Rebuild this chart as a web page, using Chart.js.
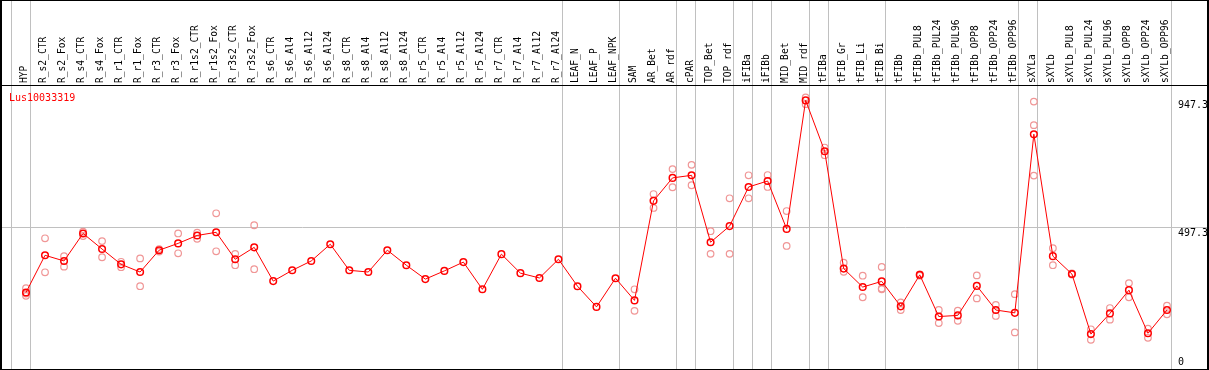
<!DOCTYPE html>
<html lang="en">
<head>
<meta charset="UTF-8">
<script src="https://cdn.jsdelivr.net/npm/chart.js"></script>
<style>
  body { margin: 0; background: #fff; }
  #wrap { width: 1209px; height: 370px; }
</style>
<title>Lus10033319</title>
</head>
<body>
<div id="wrap"><canvas id="myChart"></canvas></div>
<script>
const gene = 'Lus10033319';

const samples = ['HYP', 'R_s2_CTR', 'R_s2_Fox', 'R_s4_CTR', 'R_s4_Fox', 'R_r1_CTR', 'R_r1_Fox',
  'R_r3_CTR', 'R_r3_Fox', 'R_r1s2_CTR', 'R_r1s2_Fox', 'R_r3s2_CTR', 'R_r3s2_Fox',
  'R_s6_CTR', 'R_s6_Al4', 'R_s6_Al12', 'R_s6_Al24', 'R_s8_CTR', 'R_s8_Al4', 'R_s8_Al12', 'R_s8_Al24',
  'R_r5_CTR', 'R_r5_Al4', 'R_r5_Al12', 'R_r5_Al24', 'R_r7_CTR', 'R_r7_Al4', 'R_r7_Al12', 'R_r7_Al24',
  'LEAF_N', 'LEAF_P', 'LEAF_NPK', 'SAM', 'AR_Bet', 'AR_rdf', 'cPAR', 'TOP_Bet', 'TOP_rdf',
  'iFIBa', 'iFIBb', 'MID_Bet', 'MID_rdf', 'tFIBa', 'tFIB_Gr', 'tFIB_Li', 'tFIB_Bi', 'tFIBb',
  'tFIBb_PUL8', 'tFIBb_PUL24', 'tFIBb_PUL96', 'tFIBb_OPP8', 'tFIBb_OPP24', 'tFIBb_OPP96',
  'sXYLa', 'sXYLb', 'sXYLb_PUL8', 'sXYLb_PUL24', 'sXYLb_PUL96', 'sXYLb_OPP8', 'sXYLb_OPP24', 'sXYLb_OPP96'];

// mean expression
const meanVals = [270, 401, 381, 478, 423, 369, 342, 419, 443, 471, 482, 387, 429,
  310, 348, 381, 440, 348, 342, 419, 366,
  317, 346, 377, 281, 405, 338, 321, 387,
  292, 219, 320, 242, 593, 674, 683, 447, 504,
  642, 663, 494, 947.3, 768, 354, 289, 309, 221,
  332, 185, 189, 293, 208, 198,
  828, 398, 335, 123, 196, 278, 126, 208];

// replicates (null = none shown)
const rep1 = [285, 461, 398, 484, 451, 378, 390, 423, 478, 481, 549, 406, 507,
  null, null, null, null, null, null, null, null,
  null, null, null, null, null, null, null, null,
  null, null, null, 281, 617, 705, 720, 486, 602,
  683, 684, 557, 958, 781, 375, 329, 360, 235,
  334, 208, 206, 330, 226, 264,
  943, 426, 337, 140, 215, 303, 142, 223];
const rep2 = [258, 341, 361, 469, 394, 359, 292, 414, 408, 459, 415, 366, 352,
  null, null, null, null, null, null, null, null,
  null, null, null, null, null, null, null, null,
  null, null, null, 205, 568, 641, 648, 406, 406,
  602, 642, 434, 934, 754, 343, 253, 281, 208,
  329, 162, 170, 249, 187, 129,
  860, 366, 333, 103, 174, 253, 110, 193];
const rep3 = [266, null, null, null, null, null, null, null, null, null, null, null, null,
  null, null, null, null, null, null, null, null,
  null, null, null, null, null, null, null, null,
  null, null, null, null, null, null, null, null, null,
  null, null, null, null, null, null, null, 284, null,
  null, null, null, null, null, null,
  682, null, null, null, null, null, null, null];

const yTicks = [0, 497.3, 947.3];
// last sample index of each group (separator lines)
const groupEnds = [-1, 0, 28, 31, 34, 35, 37, 38, 39, 41, 42, 45, 52, 53, 60];

function pts(arr) {
  return arr.map((v, i) => ({ x: i, y: v }));
}

function noPad(s) {
  s.paddingTop = 0; s.paddingBottom = 0; s.paddingLeft = 0; s.paddingRight = 0;
}

const framePlugin = {
  id: 'frame',
  beforeDraw(chart) {
    const c = chart.ctx;
    c.save();
    c.fillStyle = '#fff';
    c.fillRect(0, 0, chart.width, chart.height);
    c.restore();
  },
  beforeDatasetsDraw(chart) {
    const c = chart.ctx;
    const xs = chart.scales.x;
    c.save();
    c.strokeStyle = '#c0c0c0';
    c.lineWidth = 1;
    groupEnds.forEach(g => {
      const px = Math.round(xs.getPixelForValue(g + 0.19)) + 0.5;
      c.beginPath();
      c.moveTo(px, 0);
      c.lineTo(px, chart.chartArea.bottom);
      c.stroke();
    });
    c.restore();
  },
  afterDraw(chart) {
    const c = chart.ctx;
    const a = chart.chartArea;
    c.save();
    c.fillStyle = '#000';
    c.fillRect(0, 0, chart.width, 1);
    c.fillRect(0, 0, 2, chart.height);
    c.fillRect(a.right, 0, 2, chart.height);
    c.fillRect(0, a.top - 1, a.right, 1);
    c.fillRect(0, a.bottom, a.right + 2, 2);
    c.fillStyle = '#ff0000';
    c.font = '10px "DejaVu Sans Mono"';
    c.textBaseline = 'middle';
    c.fillText(gene, 9, a.top + 12);
    c.restore();
  }
};

const ctx = document.getElementById('myChart');
const configs = {
  type: 'line',
  data: {
    datasets: [
      { label: 'mean', data: pts(meanVals), borderColor: '#ff0000', borderWidth: 1,
        pointRadius: 3.3, pointBorderWidth: 1.5, pointBorderColor: '#ff0000',
        pointBackgroundColor: 'rgba(0,0,0,0)', tension: 0 },
      { label: 'r1', data: pts(rep1), showLine: false, pointRadius: 3.3, pointBorderWidth: 1.2,
        pointBorderColor: '#f09696', pointBackgroundColor: 'rgba(0,0,0,0)' },
      { label: 'r2', data: pts(rep2), showLine: false, pointRadius: 3.3, pointBorderWidth: 1.2,
        pointBorderColor: '#f09696', pointBackgroundColor: 'rgba(0,0,0,0)' },
      { label: 'r3', data: pts(rep3), showLine: false, pointRadius: 3.3, pointBorderWidth: 1.2,
        pointBorderColor: '#f09696', pointBackgroundColor: 'rgba(0,0,0,0)' }
    ]
  },
  options: {
    responsive: true,
    maintainAspectRatio: false,
    devicePixelRatio: 1,
    animation: false,
    layout: { autoPadding: false, padding: { left: 1, right: 2, top: 0, bottom: 1 } },
    plugins: { legend: { display: false }, tooltip: { enabled: false } },
    scales: {
      x: {
        type: 'linear', position: 'top', min: -1.315, max: 62.105,
        afterBuildTicks: s => { s.ticks = samples.map((_, i) => ({ value: i })); },
        afterFit: s => { s.height = 86; noPad(s); },
        grid: { display: false, drawTicks: false },
        border: { display: false },
        ticks: {
          autoSkip: false, minRotation: 90, maxRotation: 90, padding: 3, labelOffset: 10, color: '#000',
          font: { family: 'DejaVu Sans Mono', size: 9.6 },
          callback: v => samples[v]
        }
      },
      y: {
        position: 'right', min: 0, max: 998,
        afterBuildTicks: s => { s.ticks = yTicks.map(v => ({ value: v })); },
        afterFit: s => { s.width = 0; noPad(s); },
        grid: { drawTicks: false, color: c => (c.tick && c.tick.value === 497.3) ? '#c0c0c0' : 'rgba(0,0,0,0)' },
        border: { display: false },
        ticks: {
          mirror: true, crossAlign: 'far', padding: 1, labelOffset: 5, color: '#000',
          font: { family: 'DejaVu Sans Mono', size: 10 },
          callback: v => v === 0 ? ['0', '', ''] : v.toFixed(1)
        }
      }
    }
  },
  plugins: [framePlugin]
};
const myChart = new Chart(ctx, configs);
</script>
</body>
</html>
